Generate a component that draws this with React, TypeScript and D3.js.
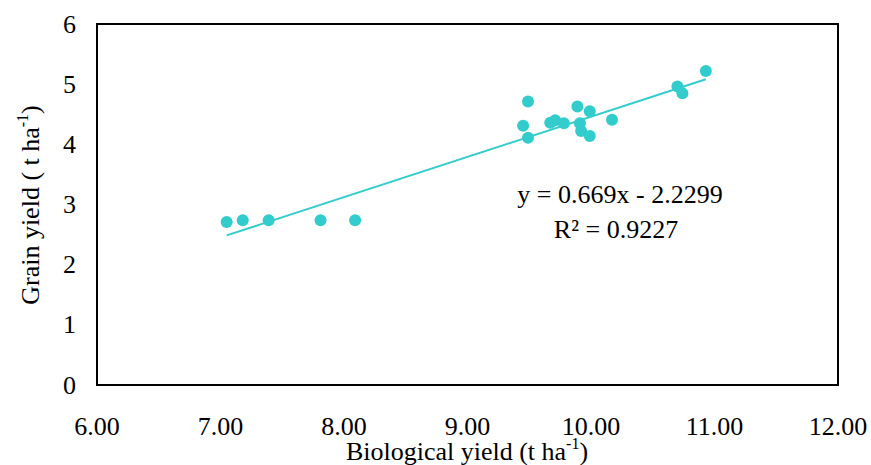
import React, { useEffect } from "react";
import * as d3 from "d3";

// Biological yield (t/ha) vs grain yield (t/ha)
const bioYield = [
  7.05, 7.18, 7.39, 7.81, 8.09, 9.49, 9.45, 9.49, 9.67, 9.71, 9.78, 9.89, 9.99,
  9.91, 9.92, 9.99, 10.17, 10.7, 10.74, 10.93,
];
const grainYield = [
  2.71, 2.74, 2.74, 2.74, 2.74, 4.71, 4.31, 4.11, 4.36, 4.4, 4.35, 4.63, 4.55,
  4.35, 4.22, 4.14, 4.41, 4.96, 4.85, 5.22,
];
const xTicks = [6, 7, 8, 9, 10, 11, 12];
const yTicks = [0, 1, 2, 3, 4, 5, 6];
const slope = 0.669;
const intercept = -2.2299;
const eqLabel = "y = 0.669x - 2.2299";
const r2Label = "R² = 0.9227";

const W = 871;
const H = 465;
const left = 97;
const right = 838;
const top = 24;
const bottom = 385;
const teal = "#33CCCC";
const font = "'Liberation Serif', 'Times New Roman', serif";
const fs = 26;

export default function App() {
  useEffect(() => {
    document.body.style.margin = "0";
  }, []);

  const x = d3.scaleLinear().domain([6, 12]).range([left, right]);
  const y = d3.scaleLinear().domain([0, 6]).range([bottom, top]);

  const pts = bioYield.map((b, i) => ({ b, g: grainYield[i] }));
  const xMin = d3.min(bioYield)!;
  const xMax = d3.max(bioYield)!;
  const trend = d3
    .line<number>()
    .x((d) => x(d))
    .y((d) => y(slope * d + intercept))([xMin, xMax]);

  return (
    <svg width={W} height={H} style={{ display: "block", background: "#fff" }}>
      <rect
        x={left}
        y={top}
        width={right - left}
        height={bottom - top}
        fill="none"
        stroke="#000"
        strokeWidth={2}
      />
      {yTicks.map((t) => (
        <text
          key={"y" + t}
          x={76}
          y={y(t) + 8.5}
          textAnchor="end"
          fontFamily={font}
          fontSize={fs}
        >
          {t}
        </text>
      ))}
      {xTicks.map((t) => (
        <text
          key={"x" + t}
          x={x(t)}
          y={435}
          textAnchor="middle"
          fontFamily={font}
          fontSize={fs}
        >
          {d3.format(".2f")(t)}
        </text>
      ))}
      <path d={trend ?? ""} stroke={teal} strokeWidth={2} fill="none" />
      {pts.map((p, i) => (
        <circle key={i} cx={x(p.b)} cy={y(p.g)} r={6} fill={teal} />
      ))}
      <text x={620} y={203} textAnchor="middle" fontFamily={font} fontSize={fs}>
        {eqLabel}
      </text>
      <text x={616} y={238} textAnchor="middle" fontFamily={font} fontSize={fs}>
        {r2Label}
      </text>
      <text
        transform={`translate(39,205) rotate(-90)`}
        textAnchor="middle"
        fontFamily={font}
        fontSize={fs}
      >
        Grain yield ( t ha
        <tspan dy={-11} fontSize={16}>
          -1
        </tspan>
        <tspan dy={11}>)</tspan>
      </text>
      <text x={467} y={460} textAnchor="middle" fontFamily={font} fontSize={fs}>
        Biological yield (t ha
        <tspan dy={-11} fontSize={16}>
          -1
        </tspan>
        <tspan dy={11}>)</tspan>
      </text>
    </svg>
  );
}
